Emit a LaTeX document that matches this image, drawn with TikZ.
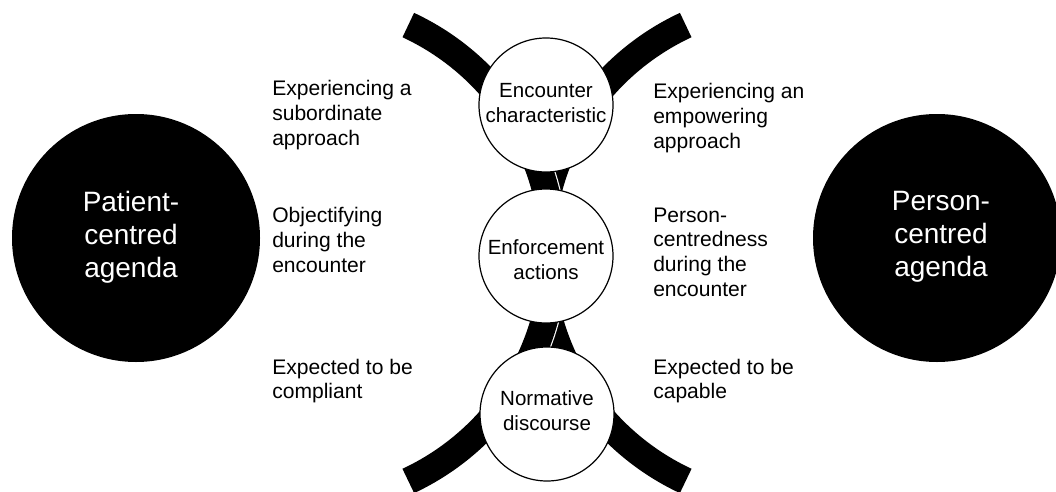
\documentclass[tikz,border=0pt]{standalone}
\usepackage{fontspec}
\setmainfont{Liberation Sans}
\begin{document}
\begin{tikzpicture}[x=0.75pt,y=-0.75pt,
  bigc/.style={circle,fill=black,draw=none,minimum size=186pt,inner sep=0pt},
  bigtext/.style={text=white,align=center,inner sep=0pt,font=\fontsize{21}{24.75}\selectfont},
  smallc/.style={circle,fill=white,draw=black,line width=0.9pt,minimum size=100.5pt,inner sep=0pt},
  ctext/.style={align=center,inner sep=0pt,font=\fontsize{15.4}{18.75}\selectfont},
  sidetext/.style={anchor=west,align=left,inner sep=0pt,font=\fontsize{15.8}{18.5}\selectfont},
  band/.style={line width=20.25pt,black},
  bandedge/.style={line width=22pt,white}]
\useasboundingbox (0,0) rectangle (1056,492);
% curved bands
\coordinate (lc) at (302,253);
\coordinate (rc) at (792,253);
\draw[band] (rc) ++(-115:251.5) arc[start angle=-115,end angle=-245,radius=251.5];
\draw[bandedge] (lc) ++(-65:251.5) arc[start angle=-65,end angle=65,radius=251.5];
\draw[band] (lc) ++(-65:251.5) arc[start angle=-65,end angle=65,radius=251.5];
% central circles
\node[smallc] (enc) at (546,105) {};
\node[ctext] (enctext) at (546,103) {Encounter\\characteristic};
\node[smallc] (enf) at (546,256) {};
\node[ctext] (enftext) at (546,260) {Enforcement\\actions};
\node[smallc] (norm) at (547,414) {};
\node[ctext] (normtext) at (547,411) {Normative\\discourse};
% big circles
\node[bigc] (pat) at (136,238) {};
\node[bigtext] (pattext) at (131,237) {Patient-\\centred\\agenda};
\node[bigc] (per) at (937,238) {};
\node[bigtext] (pertext) at (941,237) {Person-\\centred\\agenda};
% side texts
\node[sidetext] (l1) at (272,115) {Experiencing a\\subordinate\\approach};
\node[sidetext] (l2) at (272,240) {Objectifying\\during the\\encounter};
\node[sidetext] (l3) at (272,381) {Expected to be\\compliant};
\node[sidetext] (r1) at (653,118) {Experiencing an\\empowering\\approach};
\node[sidetext] (r2) at (653,252) {Person-\\centredness\\during the\\encounter};
\node[sidetext] (r3) at (653,381) {Expected to be\\capable};
\end{tikzpicture}
\end{document}
